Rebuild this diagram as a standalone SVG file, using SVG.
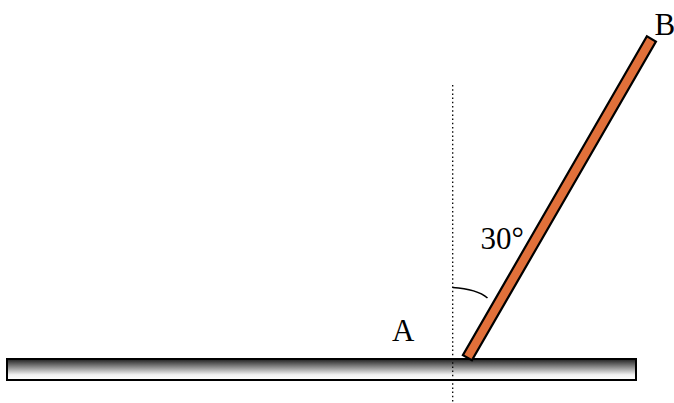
<svg xmlns="http://www.w3.org/2000/svg" width="674" height="403" viewBox="0 0 674 403">
<defs>
<linearGradient id="barGrad" x1="0" y1="0" x2="0" y2="1">
<stop offset="0" stop-color="#1e1e1e"/>
<stop offset="0.75" stop-color="#f2f2f2"/>
<stop offset="1" stop-color="#ffffff"/>
</linearGradient>
<style>
.lbl{font-family:"Liberation Serif","Times New Roman",serif;font-size:31px;fill:#000}
</style>
</defs>
<rect width="674" height="403" fill="#ffffff"/>
<g id="ground">
<rect x="7" y="359" width="629" height="21" fill="url(#barGrad)" stroke="#000" stroke-width="2"/>
</g>
<g id="vertical">
<line x1="452.7" y1="85" x2="452.7" y2="403" stroke="#000" stroke-width="1.3" stroke-dasharray="1.5 2.7"/>
</g>
<g id="rod">
<rect x="-5.2" y="-184" width="10.4" height="368" fill="#E1703A" stroke="#000" stroke-width="2.2" transform="translate(559.4,198.3) rotate(30)"/>
</g>
<g id="angle">
<path d="M452.7,287.5 Q477,289 487.5,298" fill="none" stroke="#000" stroke-width="1.6"/>
<text class="lbl" x="480.5" y="249">30°</text>
</g>
<g id="labelA"><text class="lbl" x="392" y="341">A</text></g>
<g id="labelB"><text class="lbl" x="654.5" y="35">B</text></g>
</svg>
